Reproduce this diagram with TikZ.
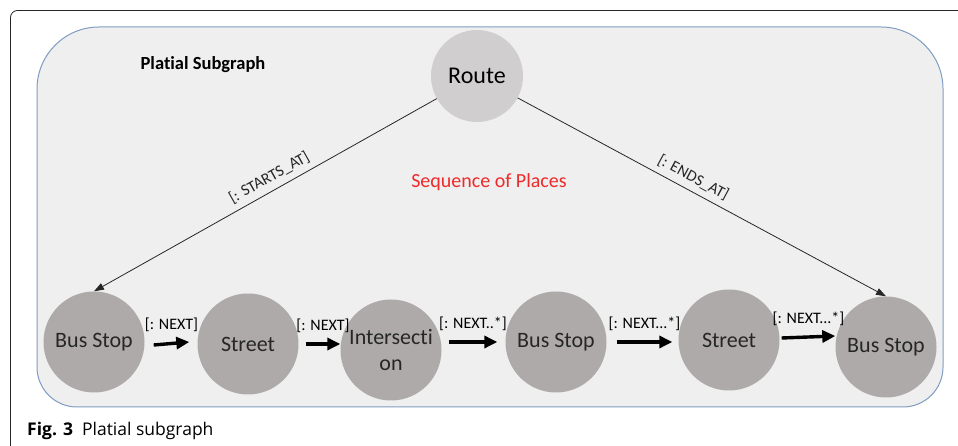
\documentclass[tikz,border=0pt]{standalone}
\usepackage{fontspec}
\setmainfont{Carlito}[Ligatures={NoCommon,NoRare,NoContextual}]
\newfontfamily\captionfont{Open Sans}
\usepackage{tikz}
\usetikzlibrary{shapes.geometric,arrows.meta,positioning}
\definecolor{panelfill}{HTML}{EFEFEF}
\definecolor{paneledge}{HTML}{7F9DC2}
\definecolor{routefill}{HTML}{D0CECE}
\definecolor{placefill}{HTML}{AEAAAA}
\definecolor{seqred}{HTML}{EE2A2A}

\begin{document}
\begin{tikzpicture}[x=1pt, y=1pt,
  place/.style={circle, fill=placefill, minimum size=101pt, inner sep=0pt,
                text=black!85, align=center, font=\fontsize{22}{26}\selectfont},
  nextarrow/.style={-{Triangle[length=13pt,width=12pt]}, line width=3.4pt},
  nextlabel/.style={above=9pt, inner sep=1pt, font=\fontsize{16}{18}\selectfont},
  link/.style={-{Triangle[length=10pt,width=7pt]}, line width=0.8pt, black!85},
  linklabel/.style={sloped, above=5pt, inner sep=1pt, font=\fontsize{16}{18}\selectfont}]
  \useasboundingbox (0,0) rectangle (958,446);
  % Outer figure frame
  \draw[black!85, line width=0.8pt, rounded corners=7pt] (958,435.5) -- (10.5,435.5) -- (10.5,0);
  % Subgraph panel
  \path[draw=paneledge, fill=panelfill, line width=1pt]
    (37,230) [rounded corners=40pt] -- (37,39) -- (943,39)
    [rounded corners=62pt] -- (943,419) -- (37,419) -- cycle;
  \node[font=\fontsize{18.5}{22}\selectfont\bfseries] (title) at (203,381) {Plat\kern0pt ial Subgraph};
  \node[text=seqred, font=\fontsize{20}{24}\selectfont] (seq) at (489,264) {Sequence of Places};
  % Route
  \node[circle, fill=routefill, minimum size=92pt, inner sep=0pt,
        font=\fontsize{24}{28}\selectfont] (route) at (477,370) {Route};
  % Places
  \node[place] (stop1) at (94,104) {Bus Stop};
  \node[place] (street1) at (248,102) {Street};
  \node[place] (inter) at (391,96) {Intersect\kern0pt i\\on};
  \node[place] (stop2) at (556,104) {Bus Stop};
  \node[place] (street2) at (729,106) {Street};
  \node[place] (stop3) at (886,99) {Bus Stop};
  % Start and end
  \draw[link] (route) -- node[linklabel, pos=.47] {[: STARTS\_AT]} (stop1.north);
  \draw[link] (route) -- node[linklabel, pos=.46] {[: ENDS\_AT]} (stop3.north);
  % Next links
  \draw[nextarrow] ([xshift=9pt,yshift=-3pt]stop1.east) -- node[nextlabel] {[: NEXT]}
    ([xshift=-8pt]stop1.east -| street1.west);
  \draw[nextarrow] ([xshift=7pt]street1.east) -- node[nextlabel] {[: NEXT]}
    (street1.east -| inter.west);
  \draw[nextarrow] ([xshift=7pt]inter.east |- stop2.west) -- node[nextlabel] {[: NEXT..*]}
    ([xshift=-8pt]stop2.west);
  \draw[nextarrow] ([xshift=10pt]stop2.east) -- node[nextlabel] {[: NEXT...*]}
    ([xshift=-6pt]stop2.east -| street2.west);
  \draw[nextarrow] ([xshift=2pt,yshift=2pt]street2.east) -- node[nextlabel] {[: NEXT...*]}
    ([yshift=4pt]street2.east -| stop3.west);
  % Caption
  \node[anchor=base west, inner sep=0pt, font=\captionfont\fontsize{17.5}{21}\selectfont]
    (caption) at (27,10) {\textbf{Fig. 3}\hspace{9pt}Platial subgraph};
\end{tikzpicture}
\end{document}
